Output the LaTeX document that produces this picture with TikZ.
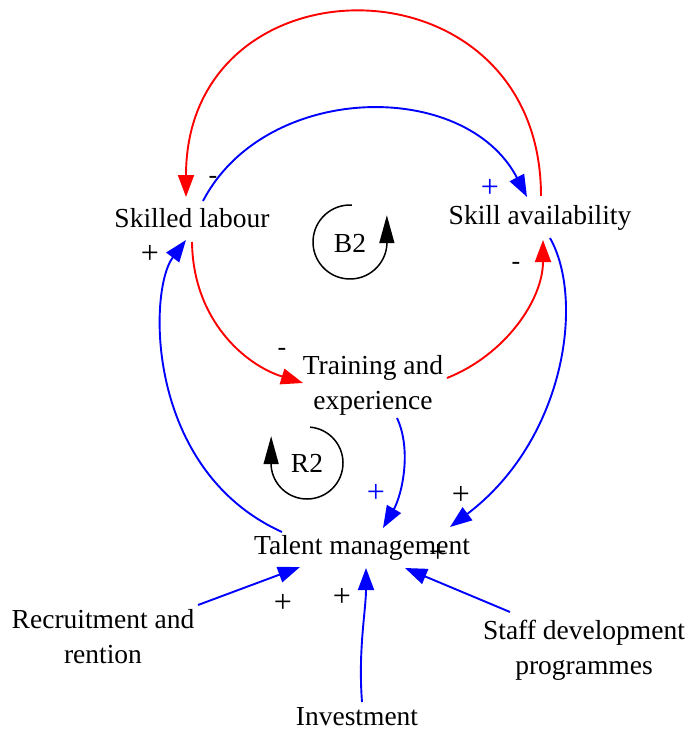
\documentclass[tikz,border=0pt]{standalone}
\usepackage{fontspec}
\setmainfont{Liberation Serif}
\usetikzlibrary{arrows.meta,calc}
\begin{document}
\begin{tikzpicture}[x=1pt,y=-1pt,
  var/.style={font=\fontsize{27.5}{35}\selectfont, align=center, inner sep=0pt},
  sgn/.style={font=\fontsize{32}{34}\selectfont, inner sep=0pt},
  msgn/.style={font=\fontsize{26}{28}\selectfont, inner sep=0pt},
  lnk/.style={line width=1.9pt, -{Triangle[length=22pt,width=16pt]}},
  neg/.style={lnk, draw=red},
  posl/.style={lnk, draw=blue},
  loopa/.style={line width=1.5pt, -{Triangle[length=28pt,width=15pt]}}
]
\useasboundingbox (0,0) rectangle (687,733);

% variables
\node[var] (sl) at (192,218) {Skilled labour};
\node[var] (sa) at (540,218) {Skill availability};
\node[var] (te) at (373,385) {Training and\\experience};
\node[var] (tm) at (362,548) {Talent management};
\node[var] (rr) at (103,637) {Recruitment and\\rention};
\node[var] (inv) at (357,717) {Investment};
\node[var] (sd) at (584,650) {Staff development\\programmes};

% links
\draw[neg] ($(sa)+(1,-22)$) .. controls (541,-48) and (186,-48) .. ($(sl)+(-6,-21)$);
\draw[posl] ($(sl)+(11,-17)$) .. controls (265,82) and (465,78) .. ($(sa)+(-13,-21)$);
\draw[neg] ($(sl)+(0,24)$) .. controls (193,320) and (245,365) .. ($(te)+(-70,-2)$);
\draw[neg] ($(te)+(74,-7)$) .. controls (505,355) and (543,300) .. ($(sa)+(3,22)$);
\draw[posl] ($(sa)+(10,20)$) .. controls (585,300) and (565,440) .. ($(tm)+(88,-21)$);
\draw[posl] ($(te)+(24,33)$) .. controls (412,450) and (402,495) .. ($(tm)+(21,-20)$);
\draw[posl] ($(tm)+(-80,-16)$) .. controls (145,470) and (148,290) .. ($(sl)+(-6,22)$);
\draw[posl] ($(rr)+(95,-32)$) -- ($(tm)+(-62,19)$);
\draw[posl] ($(inv)+(5,-15)$) .. controls (358,650) and (366,610) .. ($(tm)+(4,20)$);
\draw[posl] ($(sd)+(-74,-38)$) -- ($(tm)+(43,20)$);

% polarity signs
\node[msgn] (s1) at (213,180) {-};
\node[sgn, text=blue] (s2) at (490,188) {+};
\node[sgn] (s3) at (150,254) {+};
\node[msgn] (s4) at (282,352) {-};
\node[msgn] (s5) at (516,266) {-};
\node[sgn, text=blue] (s6) at (376,493) {+};
\node[sgn] (s7) at (461,495) {+};
\node[sgn] (s8) at (283,603) {+};
\node[sgn] (s9) at (342,597) {+};
\node[sgn] (s10) at (438,553) {+};

% loop markers
\node[var] (b2) at (350,243) {B2};
\draw[loopa] (350,242) ++(-87:37) arc[start angle=-87, end angle=-355, radius=37] -- ++(0,-30);
\node[var] (r2) at (307,463) {R2};
\draw[loopa] (307,463) ++(-85:36) arc[start angle=-85, end angle=175, radius=36] -- ++(0,-30);
\end{tikzpicture}
\end{document}
